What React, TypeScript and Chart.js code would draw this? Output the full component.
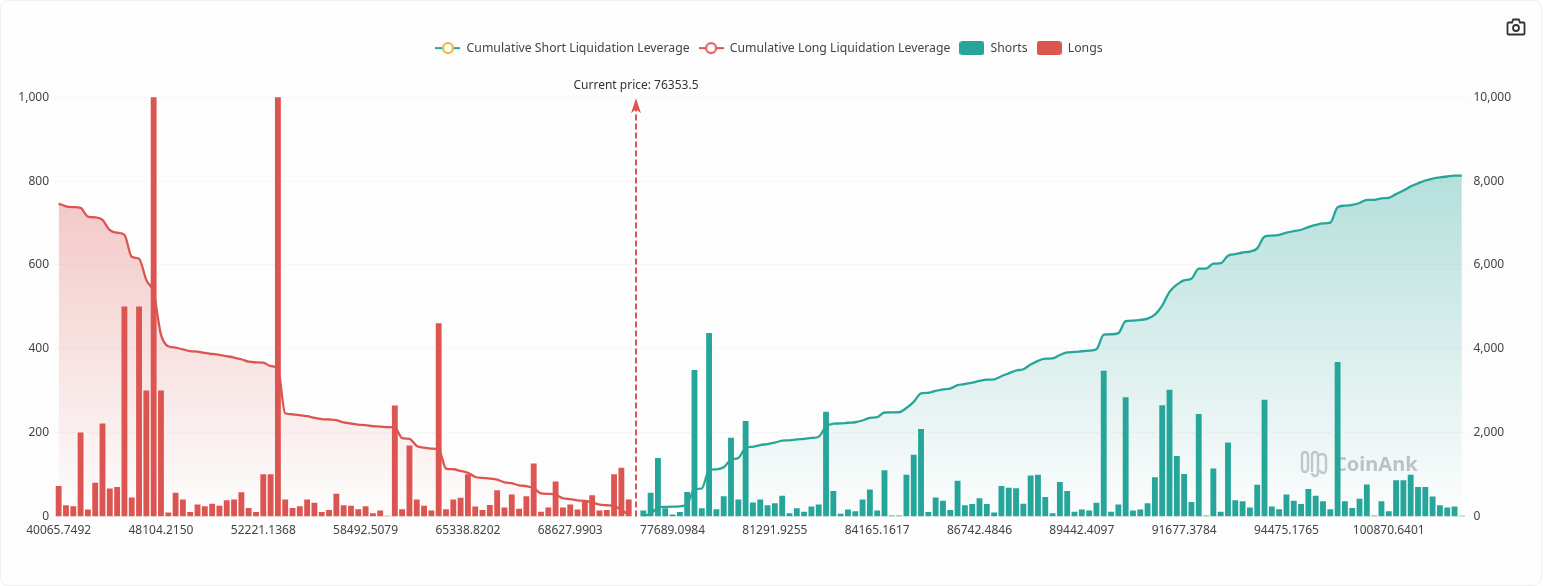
import React, { useEffect, useRef } from 'react';
import { Chart, registerables } from 'chart.js';

Chart.register(...registerables);

const FONT = '"Noto Sans", sans-serif';
const RED = '#dc5550';
const TEAL = '#26a69a';
const GOLD = '#e8b422';

const currentPriceLabel = 'Current price: 76353.5';
const currentPriceIndex = 79;

const tickPrices = [
  '40065.7492', '48104.2150', '52221.1368', '58492.5079', '65338.8202', '68627.9903', '77689.0984',
  '81291.9255', '84165.1617', '86742.4846', '89442.4097', '91677.3784', '94475.1765', '100870.6401',
];
const tickEvery = 14;
const categoryCount = 193;

const longs = [
  72, 26, 24, 200, 16, 80, 221, 66, 70, 500,
  45, 500, 300, 1000, 300, 9, 56, 40, 10, 28,
  24, 30, 25, 38, 40, 57, 20, 10, 100, 100,
  1000, 40, 20, 24, 40, 32, 10, 15, 54, 26,
  25, 17, 24, 7, 14, 1, 264, 17, 169, 40,
  25, 14, 460, 17, 40, 44, 100, 23, 15, 27,
  62, 21, 52, 18, 48, 126, 11, 21, 83, 21,
  28, 16, 38, 50, 14, 15, 100, 116, 40,
];

const shorts = [
  14, 56, 139, 19, 4, 10, 58, 349, 19, 437,
  17, 48, 187, 40, 227, 33, 40, 26, 31, 49,
  7, 19, 11, 23, 28, 249, 60, 6, 16, 12,
  40, 64, 14, 110, 2, 2, 99, 147, 208, 10,
  45, 37, 15, 85, 26, 29, 43, 29, 9, 72,
  68, 67, 30, 97, 99, 46, 7, 82, 60, 11,
  16, 14, 32, 347, 11, 28, 284, 14, 16, 31,
  93, 265, 302, 144, 101, 34, 244, 2, 114, 11,
  176, 38, 36, 21, 75, 278, 23, 17, 52, 37,
  29, 65, 49, 36, 17, 368, 36, 20, 42, 76,
  2, 36, 12, 86, 86, 99, 70, 70, 47, 26,
  21, 23, 1,
];

const cumulativeLongs = [
  7465, 7400, 7380, 7360, 7155, 7135, 7075, 6830, 6770, 6720,
  6195, 6150, 5640, 5340, 4340, 4060, 4030, 3985, 3945, 3935,
  3902, 3880, 3855, 3825, 3793, 3752, 3695, 3680, 3670, 3590,
  3520, 2465, 2440, 2420, 2395, 2355, 2325, 2315, 2300, 2245,
  2220, 2195, 2180, 2155, 2148, 2135, 2130, 1871, 1854, 1685,
  1645, 1620, 1606, 1146, 1129, 1089, 1045, 945, 922, 907,
  880, 818, 797, 745, 727, 679, 553, 542, 521, 438,
  417, 389, 373, 335, 285, 271, 256, 156, 40,
];

const cumulativeShorts = [
  14, 68, 215, 232, 236, 246, 300, 652, 670, 1108,
  1125, 1175, 1360, 1400, 1635, 1665, 1705, 1730, 1762, 1812,
  1820, 1840, 1852, 1875, 1905, 2155, 2215, 2222, 2238, 2250,
  2292, 2356, 2372, 2482, 2484, 2488, 2590, 2735, 2940, 2952,
  2998, 3036, 3052, 3135, 3162, 3192, 3236, 3266, 3274, 3348,
  3416, 3484, 3515, 3625, 3715, 3765, 3772, 3855, 3915, 3927,
  3943, 3957, 3990, 4338, 4348, 4376, 4660, 4675, 4690, 4722,
  4815, 5030, 5358, 5530, 5635, 5670, 5912, 5915, 6030, 6042,
  6220, 6260, 6298, 6320, 6396, 6676, 6700, 6718, 6772, 6810,
  6840, 6905, 6955, 6990, 7008, 7378, 7415, 7435, 7478, 7552,
  7555, 7590, 7603, 7690, 7775, 7875, 7945, 8015, 8062, 8088,
  8110, 8130, 8133,
];

// longs sit left of the current price, shorts right of it
const leftSide = (values: number[]) => values.concat(new Array(categoryCount - values.length).fill(null));
const rightSide = (values: number[]) => new Array(categoryCount - values.length).fill(null).concat(values);

const categories: string[] = [];
for (let i = 0; i < categoryCount; i++) {
  categories.push(i % tickEvery === 0 ? tickPrices[i / tickEvery] : '');
}

function lineIcon(lineColor: string, ringColor: string) {
  const c = document.createElement('canvas');
  c.width = 25;
  c.height = 14;
  const ctx = c.getContext('2d')!;
  ctx.strokeStyle = lineColor;
  ctx.lineWidth = 2;
  ctx.beginPath();
  ctx.moveTo(0, 7);
  ctx.lineTo(25, 7);
  ctx.stroke();
  ctx.fillStyle = '#fff';
  ctx.strokeStyle = ringColor;
  ctx.beginPath();
  ctx.arc(12.5, 7, 5, 0, Math.PI * 2);
  ctx.fill();
  ctx.stroke();
  return c;
}

function boxIcon(color: string) {
  const c = document.createElement('canvas');
  c.width = 25;
  c.height = 14;
  const ctx = c.getContext('2d')!;
  ctx.fillStyle = color;
  ctx.beginPath();
  ctx.roundRect(0, 0, 25, 14, 3);
  ctx.fill();
  return c;
}

function areaGradient(chart: any, color: string, topValue: number, alpha: string) {
  const { ctx, chartArea, scales } = chart;
  if (!chartArea) return color + '00';
  const g = ctx.createLinearGradient(0, scales.y1.getPixelForValue(topValue), 0, chartArea.bottom);
  g.addColorStop(0, color + alpha);
  g.addColorStop(1, color + '00');
  return g;
}

// keeps room between the legend and the plot
const legendGap = {
  id: 'legendGap',
  beforeInit(chart: any) {
    const fit = chart.legend.fit;
    chart.legend.fit = function () {
      fit.call(this);
      this.height += 33;
    };
  },
};

const watermark = {
  id: 'watermark',
  beforeDatasetsDraw(chart: any) {
    const { ctx } = chart;
    ctx.save();
    ctx.strokeStyle = 'rgba(150,150,160,0.5)';
    ctx.lineWidth = 2.4;
    ctx.lineJoin = 'round';
    ctx.beginPath();
    ctx.roundRect(1302, 452, 6, 20, 3);
    ctx.moveTo(1312, 472);
    ctx.lineTo(1312, 455);
    ctx.arc(1315, 455, 3, Math.PI, 0);
    ctx.lineTo(1318, 473);
    ctx.arc(1315, 473, 3, 0, Math.PI);
    ctx.moveTo(1318, 458);
    ctx.arc(1322, 458, 4, Math.PI, 0);
    ctx.lineTo(1326, 470);
    ctx.arc(1323, 470, 3, 0, Math.PI);
    ctx.stroke();
    ctx.fillStyle = 'rgba(150,150,160,0.55)';
    ctx.font = `bold 20px ${FONT}`;
    ctx.textAlign = 'left';
    ctx.textBaseline = 'middle';
    ctx.fillText('CoinAnk', 1334, 465);
    ctx.restore();
  },
};

const currentPriceLine = {
  id: 'currentPriceLine',
  afterDatasetsDraw(chart: any) {
    const { ctx, chartArea, scales } = chart;
    const x = scales.x.getPixelForValue(currentPriceIndex);
    const top = chartArea.top + 1;
    ctx.save();
    ctx.strokeStyle = RED;
    ctx.lineWidth = 2;
    ctx.setLineDash([6, 3]);
    ctx.beginPath();
    ctx.moveTo(x, chartArea.bottom);
    ctx.lineTo(x, top + 10);
    ctx.stroke();
    ctx.fillStyle = RED;
    ctx.beginPath();
    ctx.moveTo(x, top);
    ctx.lineTo(x + 5, top + 15);
    ctx.lineTo(x, top + 11);
    ctx.lineTo(x - 5, top + 15);
    ctx.closePath();
    ctx.fill();
    ctx.fillStyle = '#333';
    ctx.font = `12px ${FONT}`;
    ctx.textAlign = 'center';
    ctx.textBaseline = 'middle';
    ctx.fillText(currentPriceLabel, x, chartArea.top - 12);
    ctx.restore();
  },
};

export default function App() {
  const canvasRef = useRef<HTMLCanvasElement>(null);

  useEffect(() => {
    if (!canvasRef.current) return;
    const icons: Record<string, HTMLCanvasElement> = {
      'Cumulative Short Liquidation Leverage': lineIcon(TEAL, GOLD),
      'Cumulative Long Liquidation Leverage': lineIcon(RED, RED),
      Shorts: boxIcon(TEAL),
      Longs: boxIcon(RED),
    };

    const chart = new Chart(canvasRef.current, {
      type: 'bar',
      data: {
        labels: categories,
        datasets: [
          {
            type: 'line',
            label: 'Cumulative Short Liquidation Leverage',
            data: rightSide(cumulativeShorts),
            yAxisID: 'y1',
            order: 2,
            borderColor: TEAL,
            borderWidth: 2.3,
            pointRadius: 0,
            cubicInterpolationMode: 'monotone',
            fill: 'origin',
            backgroundColor: (c: any) => areaGradient(c.chart, TEAL, 8133, '55'),
          },
          {
            type: 'line',
            label: 'Cumulative Long Liquidation Leverage',
            data: leftSide(cumulativeLongs),
            yAxisID: 'y1',
            order: 2,
            borderColor: RED,
            borderWidth: 2.3,
            pointRadius: 0,
            cubicInterpolationMode: 'monotone',
            fill: 'origin',
            backgroundColor: (c: any) => areaGradient(c.chart, RED, 7465, '4d'),
          },
          {
            label: 'Shorts',
            data: rightSide(shorts),
            yAxisID: 'y',
            order: 1,
            grouped: false,
            barThickness: 5.2,
            backgroundColor: TEAL,
          },
          {
            label: 'Longs',
            data: leftSide(longs),
            yAxisID: 'y',
            order: 1,
            grouped: false,
            barThickness: 5.2,
            backgroundColor: RED,
          },
        ],
      } as any,
      options: {
        responsive: false,
        animation: false,
        devicePixelRatio: 1,
        layout: { padding: { top: 33, bottom: 39.4, right: 5 } },
        font: { family: FONT, size: 12 },
        scales: {
          x: {
            offset: true,
            grid: { display: false, drawTicks: false },
            border: { display: false },
            ticks: {
              autoSkip: false,
              maxRotation: 0,
              minRotation: 0,
              padding: 7,
              color: '#444',
              font: { family: FONT, size: 12 },
            },
            afterFit: (s: any) => {
              s.height = 30;
            },
          },
          y: {
            position: 'left',
            min: 0,
            max: 1000,
            grid: { color: '#f1f1f1', drawTicks: false },
            border: { display: false, dash: [4, 4] },
            ticks: {
              stepSize: 200,
              padding: 6,
              color: '#444',
              font: { family: FONT, size: 12 },
            },
            afterFit: (s: any) => {
              s.width = 55;
            },
          },
          y1: {
            position: 'right',
            min: 0,
            max: 10000,
            grid: { display: false, drawTicks: false },
            border: { display: false },
            ticks: {
              stepSize: 2000,
              padding: 8,
              color: '#444',
              font: { family: FONT, size: 12 },
            },
            afterFit: (s: any) => {
              s.width = 72.5;
            },
          },
        },
        plugins: {
          tooltip: { enabled: false },
          legend: {
            position: 'top',
            labels: {
              usePointStyle: true,
              pointStyleWidth: 25,
              boxHeight: 14,
              padding: 9,
              color: '#444',
              font: { family: FONT, size: 12.25 },
              generateLabels: (c: any) =>
                c.data.datasets.map((d: any, i: number) => ({
                  text: d.label,
                  pointStyle: icons[d.label],
                  fontColor: '#444',
                  lineWidth: 0,
                  hidden: false,
                  datasetIndex: i,
                })),
            },
          },
        },
      } as any,
      plugins: [legendGap, watermark, currentPriceLine],
    });

    return () => {
      chart.destroy();
    };
  }, []);

  return (
    <div style={{ position: 'fixed', left: 0, top: 0, width: 1543, height: 586, background: '#fff', overflow: 'hidden' }}>
      <div
        style={{
          position: 'absolute',
          left: 0,
          top: 0,
          width: 1540,
          height: 584,
          background: '#fdfdfd',
          border: '1px solid #f0f0f0',
          borderRadius: 8,
        }}
      />
      <canvas ref={canvasRef} width={1543} height={586} style={{ position: 'absolute', left: 0, top: 0 }} />
      <svg width={20} height={18} viewBox="0 0 20 18" style={{ position: 'absolute', left: 1506, top: 18 }} fill="none" stroke="#333" strokeWidth={1.8}>
        <path d="M2.5 4.5h3.5l1.2-3h5.6l1.2 3h3.5a1 1 0 0 1 1 1v10a1 1 0 0 1-1 1h-15a1 1 0 0 1-1-1v-10a1 1 0 0 1 1-1z" />
        <circle cx={10} cy={10} r={3} />
      </svg>
    </div>
  );
}
